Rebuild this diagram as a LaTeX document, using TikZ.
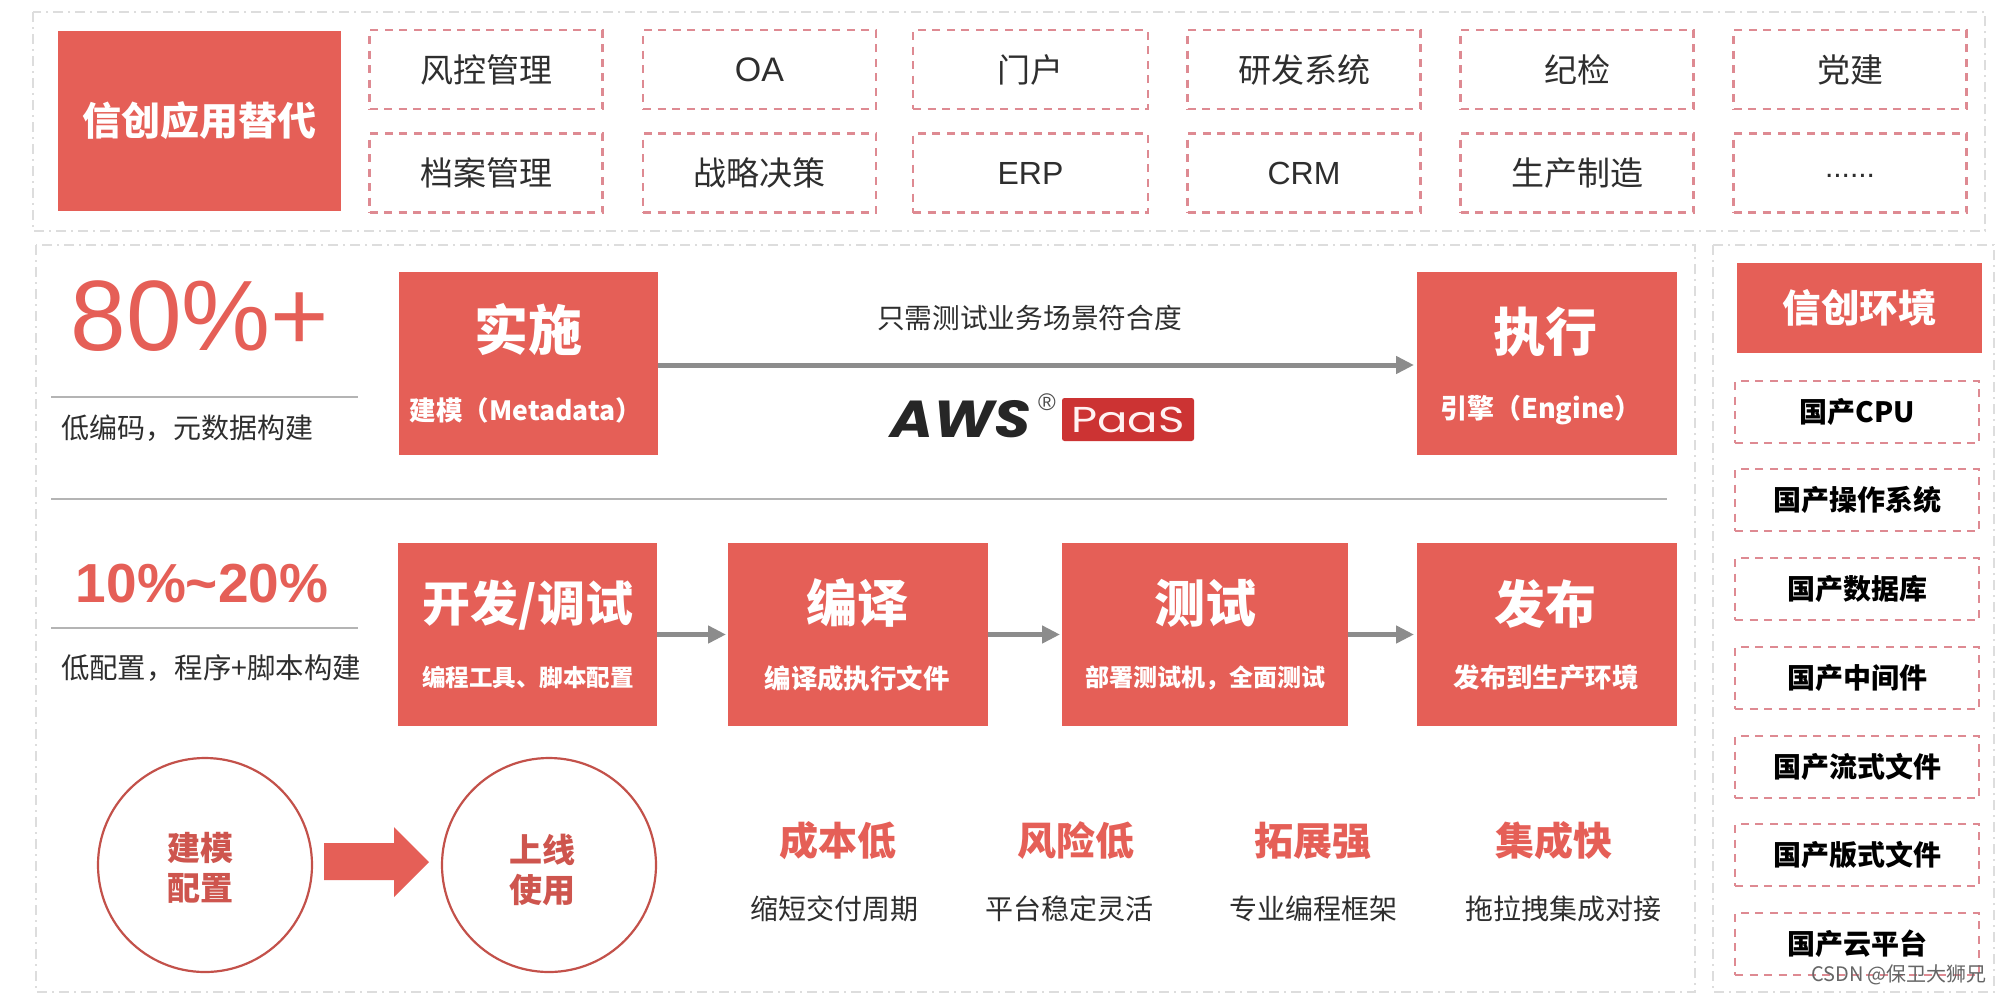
\documentclass[tikz,border=0pt]{standalone}
\usepackage{fontspec}
\setmainfont{Noto Sans CJK SC}
\newfontfamily\arialf{Liberation Sans}
\newfontfamily\popf[FakeStretch=1.12]{Poppins}
\newfontfamily\popw[FakeStretch=1.25]{Poppins}
\definecolor{brand}{HTML}{E55F57}
\definecolor{dashred}{HTML}{DE8A92}
\definecolor{panel}{HTML}{DDDDDD}
\definecolor{ink}{HTML}{2E2E2E}
\definecolor{arrowgray}{HTML}{8C8C8C}
\definecolor{rulegray}{HTML}{B4B4B4}
\definecolor{paasred}{HTML}{CC3333}
\newcommand{\fs}[1]{\fontsize{#1}{#1}\selectfont}
\usetikzlibrary{arrows.meta}
\tikzset{
 txt/.style={inner sep=0pt,outer sep=0pt,align=center,text=ink},
 redbox/.style={fill=brand,draw=none,inner sep=0pt,outer sep=0pt,text=white,font=\bfseries},
 appbox/.style={draw=dashred,line width=2.4pt,dash pattern=on 8pt off 6.5pt,inner sep=0pt,outer sep=0pt,minimum width=233pt,minimum height=79pt,text=ink,font=\fs{33}},
 envbox/.style={draw=dashred,line width=2.4pt,dash pattern=on 8pt off 6.5pt,inner sep=0pt,outer sep=0pt,minimum width=244pt,minimum height=62pt,text=black,font=\bfseries\fs{28}},
 panelbox/.style={draw=panel,line width=1.4pt,dash pattern=on 10pt off 5pt on 2pt off 5pt},
 flow/.style={draw=arrowgray,line width=5pt,-{Triangle[length=18pt,width=17pt,fill=arrowgray]}},
 hrule/.style={draw=rulegray,line width=1.6pt},
 ring/.style={circle,draw=brand!85!black,line width=2.2pt,minimum size=214pt,inner sep=0pt,outer sep=0pt},
 whitesub/.style={text=white,inner sep=0pt,font=\bfseries},
 headred/.style={txt,text=brand,font=\bfseries\fs{39}},
 subdark/.style={txt,font=\fs{28}}
}
\begin{document}
\begin{tikzpicture}[x=1pt,y=-1pt]
\useasboundingbox (0,0) rectangle (2000,994);
\fill[white] (0,0) rectangle (2000,994);
% panels
\draw[panelbox] (33,12) rectangle (1985,231);
\draw[panelbox] (36,245) rectangle (1695,992);
\draw[panelbox] (1713,245) rectangle (1994,992);
% top row
\node[redbox,minimum width=283pt,minimum height=180pt,font=\bfseries\fs{39}] (app) at (199.5,121) {信创应用替代};
\node[appbox] (a1) at (486,69.5) {风控管理};
\node[appbox,font=\arialf\fs{34}] (a2) at (759.5,69.5) {OA};
\node[appbox,minimum width=235pt] (a3) at (1030.5,69.5) {门户};
\node[appbox] (a4) at (1304,69.5) {研发系统};
\node[appbox] (a5) at (1577,69.5) {纪检};
\node[appbox] (a6) at (1850,69.5) {党建};
\node[appbox] (b1) at (486,173) {档案管理};
\node[appbox] (b2) at (759.5,173) {战略决策};
\node[appbox,minimum width=235pt,font=\arialf\fs{32}] (b3) at (1030.5,173) {ERP};
\node[appbox,font=\arialf\fs{32}] (b4) at (1304,173) {CRM};
\node[appbox] (b5) at (1577,173) {生产制造};
\node[appbox,font=\arialf\fs{30}] (b6) at (1850,173) {\raisebox{-8pt}{......}};
% left metrics
\node[txt,text=brand,font=\arialf\fs{100}] (pct) at (200,316) {80\%+};
\coordinate (r1a) at (51,397); \coordinate (r1b) at (358,397);
\draw[hrule] (r1a) -- (r1b);
\node[subdark] (pctsub) at (187,428) {低编码，元数据构建};
\coordinate (sa) at (51,499); \coordinate (sb) at (1667,499);
\draw[hrule] (sa) -- (sb);
\node[txt,text=brand,font=\arialf\bfseries\fs{55}] (pct2) at (202,584) {10\%\char`\~20\%};
\coordinate (r2a) at (51,628); \coordinate (r2b) at (358,628);
\draw[hrule] (r2a) -- (r2b);
\node[subdark,font=\fs{28.4}] (pct2sub) at (211,668) {低配置，程序+脚本构建};
% top flow
\node[redbox,minimum width=259pt,minimum height=183pt] (impl) at (528.5,363.5) {};
\node[whitesub,font=\bfseries\fs{54}] (implt) at (528,330) {实施};
\node[whitesub,font=\bfseries\fs{26.5}] (impls) at (526,410) {建模（Metadata）};
\node[redbox,minimum width=260pt,minimum height=183pt] (exec) at (1547,363.5) {};
\node[whitesub,font=\bfseries\fs{52}] (exect) at (1545,332) {执行};
\node[whitesub,font=\bfseries\fs{27}] (execs) at (1541,410) {引擎（Engine）};
\draw[flow] (impl.east |- 0,365) -- ([xshift=-3pt]exec.west |- 0,365);
\node[txt,font=\fs{27.7}] (need) at (1029.5,318) {只需测试业务场景符合度};
\node[txt,text=black!85,font=\popf\bfseries\itshape\fs{52}] (aws) at (961,419) {AWS};
\node[txt,text=black!70,font=\arialf\fs{24}] (reg) at (1047,402) {®};
\node[fill=paasred,rounded corners=2.5pt,minimum width=132pt,minimum height=43pt,inner sep=0pt,text=white!95!red,font=\popw\fs{36}] (paas) at (1128,419.5) {PaaS};
% lower flow
\node[redbox,minimum width=259pt,minimum height=183pt] (dev) at (527.5,634.5) {};
\node[whitesub,font=\bfseries\fs{48}] (devt) at (528,605) {开发/调试};
\node[whitesub,font=\bfseries\fs{23.5}] (devs) at (528,677) {编程工具、脚本配置};
\node[redbox,minimum width=260pt,minimum height=183pt] (comp) at (858,634.5) {};
\node[whitesub,font=\bfseries\fs{51}] (compt) at (857,603) {编译};
\node[whitesub,font=\bfseries\fs{26.4}] (comps) at (857,678) {编译成执行文件};
\node[redbox,minimum width=286pt,minimum height=183pt] (test) at (1205,634.5) {};
\node[whitesub,font=\bfseries\fs{51}] (testt) at (1205,603) {测试};
\node[whitesub,font=\bfseries\fs{24}] (tests) at (1205,678) {部署测试机，全面测试};
\node[redbox,minimum width=260pt,minimum height=183pt] (pub) at (1547,634.5) {};
\node[whitesub,font=\bfseries\fs{51}] (pubt) at (1545,604) {发布};
\node[whitesub,font=\bfseries\fs{26.4}] (pubs) at (1546,678) {发布到生产环境};
\draw[flow] (dev.east) -- ([xshift=-2pt]comp.west);
\draw[flow] (comp.east) -- ([xshift=-2pt]test.west);
\draw[flow] (test.east) -- ([xshift=-3pt]pub.west);
% circles
\node[ring] (c1) at (205,865) {};
\node[txt,text=brand!90!black,font=\bfseries\fs{33},align=center] (c1t) at (200,868) {建模\\[7pt]配置};
\node[ring] (c2) at (549,865) {};
\node[txt,text=brand!90!black,font=\bfseries\fs{33},align=center] (c2t) at (542,870) {上线\\[7pt]使用};
\fill[brand] (324,843) -- (394,843) -- (394,827) -- (429,862) -- (394,897) -- (394,880) -- (324,880) -- cycle;
% bottom benefits
\node[headred] (h1) at (838,841) {成本低};
\node[headred] (h2) at (1076,841) {风险低};
\node[headred] (h3) at (1313,841) {拓展强};
\node[headred] (h4) at (1554,841) {集成快};
\node[subdark] (s1) at (834,909) {缩短交付周期};
\node[subdark] (s2) at (1069,909) {平台稳定灵活};
\node[subdark] (s3) at (1313,909) {专业编程框架};
\node[subdark] (s4) at (1563,909) {拖拉拽集成对接};
% right column
\node[redbox,minimum width=245pt,minimum height=90pt,font=\bfseries\fs{38.5}] (env) at (1859.5,308) {信创环境};
\node[envbox] (e1) at (1857,412) {国产CPU};
\node[envbox] (e2) at (1857,500) {国产操作系统};
\node[envbox] (e3) at (1857,589) {国产数据库};
\node[envbox] (e4) at (1857,678) {国产中间件};
\node[envbox] (e5) at (1857,767) {国产流式文件};
\node[envbox] (e6) at (1857,855) {国产版式文件};
\node[envbox] (e7) at (1857,944) {国产云平台};
% watermark
\node[txt,text=black!60,font=\fs{20}] (wm) at (1899,975) {CSDN @保卫大狮兄};
\end{tikzpicture}
\end{document}
